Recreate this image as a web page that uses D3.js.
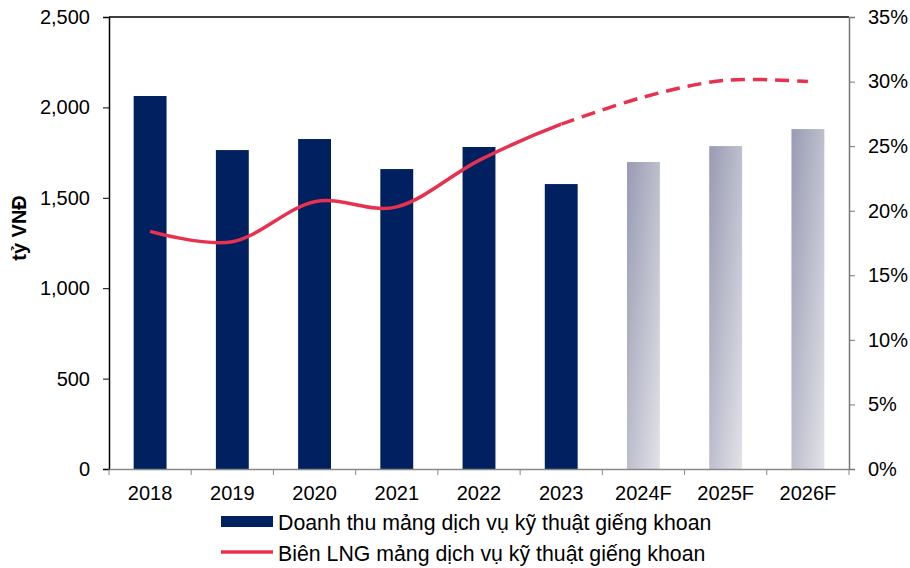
<!DOCTYPE html>
<html>
<head>
<meta charset="utf-8">
<script src="https://cdn.jsdelivr.net/npm/d3@7"></script>
<style>
  body { margin: 0; background: #fff; }
  svg { font-family: "Liberation Sans", Arial, sans-serif; }
</style>
</head>
<body>
<div id="chart"></div>
<script>
// data
const years = ['2018', '2019', '2020', '2021', '2022', '2023', '2024F', '2025F', '2026F'];
const revenue = [2063, 1764, 1825, 1659, 1781, 1576, 1698, 1786, 1880];
const margin = [18.4, 17.6, 20.7, 20.3, 23.9, 26.7, 28.8, 30.1, 30.0];
const forecast = [false, false, false, false, false, false, true, true, true];
const leftTicks = [0, 500, 1000, 1500, 2000, 2500];
const rightTicks = [0, 5, 10, 15, 20, 25, 30, 35];
const legendLabels = ['Doanh thu mảng dịch vụ kỹ thuật giếng khoan', 'Biên LNG mảng dịch vụ kỹ thuật giếng khoan'];

const W = 910, H = 568;
const m = { top: 17, right: 61, bottom: 99, left: 109 };
const iw = W - m.left - m.right;
const ih = H - m.top - m.bottom;

const BAR = '#002060';
const LINE = '#E8304F';
const FS = 20;

const svg = d3.select('#chart').append('svg')
    .attr('width', W)
    .attr('height', H);

const defs = svg.append('defs');
const grad = defs.append('linearGradient')
    .attr('id', 'fc')
    .attr('x1', '0%').attr('y1', '0%')
    .attr('x2', '100%').attr('y2', '100%');
grad.append('stop').attr('offset', '0%').attr('stop-color', '#989bb2');
grad.append('stop').attr('offset', '100%').attr('stop-color', '#e2e2e8');

const g = svg.append('g').attr('transform', `translate(${m.left},${m.top})`);

const x = d3.scaleBand().domain(years).range([0, iw]).paddingInner(0.6).paddingOuter(0.3);
const band = d3.scaleBand().domain(years).range([0, iw]);
const yL = d3.scaleLinear().domain([0, 2500]).range([ih, 0]);
const yR = d3.scaleLinear().domain([0, 35]).range([ih, 0]);

// bars
g.selectAll('rect.bar')
    .data(years)
    .enter()
    .append('rect')
    .attr('class', 'bar')
    .attr('x', d => x(d))
    .attr('width', x.bandwidth())
    .attr('y', (d, i) => yL(revenue[i]))
    .attr('height', (d, i) => ih - yL(revenue[i]))
    .attr('fill', (d, i) => forecast[i] ? 'url(#fc)' : BAR);

// top border
g.append('line')
    .attr('x1', 0).attr('x2', iw)
    .attr('y1', 0).attr('y2', 0)
    .attr('stroke', '#000').attr('stroke-width', 1.5);

// left axis
const axL = g.append('g')
    .call(d3.axisLeft(yL).tickValues(leftTicks).tickSize(6).tickPadding(13).tickFormat(d3.format(',')));
axL.select('.domain').attr('stroke', '#000').attr('stroke-width', 1.5);
axL.selectAll('.tick line').attr('stroke', '#000');
axL.selectAll('text').attr('font-size', FS).attr('fill', '#000');

// right axis
const axR = g.append('g')
    .attr('transform', `translate(${iw},0)`)
    .call(d3.axisRight(yR).tickValues(rightTicks).tickSize(6).tickPadding(13).tickFormat(d => d + '%'));
axR.select('.domain').attr('stroke', '#777').attr('stroke-width', 1.5);
axR.selectAll('.tick line').attr('stroke', '#777');
axR.selectAll('text').attr('font-size', FS).attr('fill', '#000');

// bottom axis
const axB = g.append('g')
    .attr('transform', `translate(0,${ih})`)
    .call(d3.axisBottom(band).tickSize(0).tickPadding(17));
axB.select('.domain').attr('stroke', '#888').attr('stroke-width', 1.5);
axB.selectAll('text').attr('font-size', FS).attr('fill', '#000');
g.append('g')
    .selectAll('line')
    .data(d3.range(years.length + 1))
    .enter()
    .append('line')
    .attr('x1', i => i * band.step()).attr('x2', i => i * band.step())
    .attr('y1', ih).attr('y2', ih + 6)
    .attr('stroke', '#888');

// y title
svg.append('text')
    .attr('transform', 'translate(26,228) rotate(-90)')
    .attr('text-anchor', 'middle')
    .attr('font-size', FS)
    .attr('font-weight', 'bold')
    .text('tỷ VNĐ');

// margin line, smooth, solid to 2023 then dashed
const pts = years.map((d, i) => [band(d) + band.bandwidth() / 2, yR(margin[i])]);
const lineGen = d3.line().curve(d3.curveCardinal.tension(0));
const splitX = band('2023') + band.bandwidth() / 2;

defs.append('clipPath').attr('id', 'cSolid')
    .append('rect').attr('x', -10).attr('y', -50).attr('width', splitX + 10).attr('height', ih + 100);
defs.append('clipPath').attr('id', 'cDash')
    .append('rect').attr('x', splitX).attr('y', -50).attr('width', iw).attr('height', ih + 100);

g.append('path')
    .attr('d', lineGen(pts))
    .attr('fill', 'none')
    .attr('stroke', LINE)
    .attr('stroke-width', 3.5)
    .attr('clip-path', 'url(#cSolid)');
g.append('path')
    .attr('d', lineGen(pts.slice(5)))
    .attr('fill', 'none')
    .attr('stroke', LINE)
    .attr('stroke-width', 3.5)
    .attr('stroke-dasharray', '14,8')
    .attr('clip-path', 'url(#cDash)');

// legend
const lg = svg.append('g').attr('transform', 'translate(221,0)');
lg.append('rect')
    .attr('x', 0).attr('y', 516).attr('width', 52).attr('height', 11)
    .attr('fill', BAR);
lg.append('line')
    .attr('x1', 0).attr('x2', 52).attr('y1', 552).attr('y2', 552)
    .attr('stroke', LINE).attr('stroke-width', 3.5);
lg.selectAll('text')
    .data(legendLabels)
    .enter()
    .append('text')
    .attr('x', 57)
    .attr('y', (d, i) => 530 + i * 31)
    .attr('font-size', 21.3)
    .text(d => d);
</script>
</body>
</html>
